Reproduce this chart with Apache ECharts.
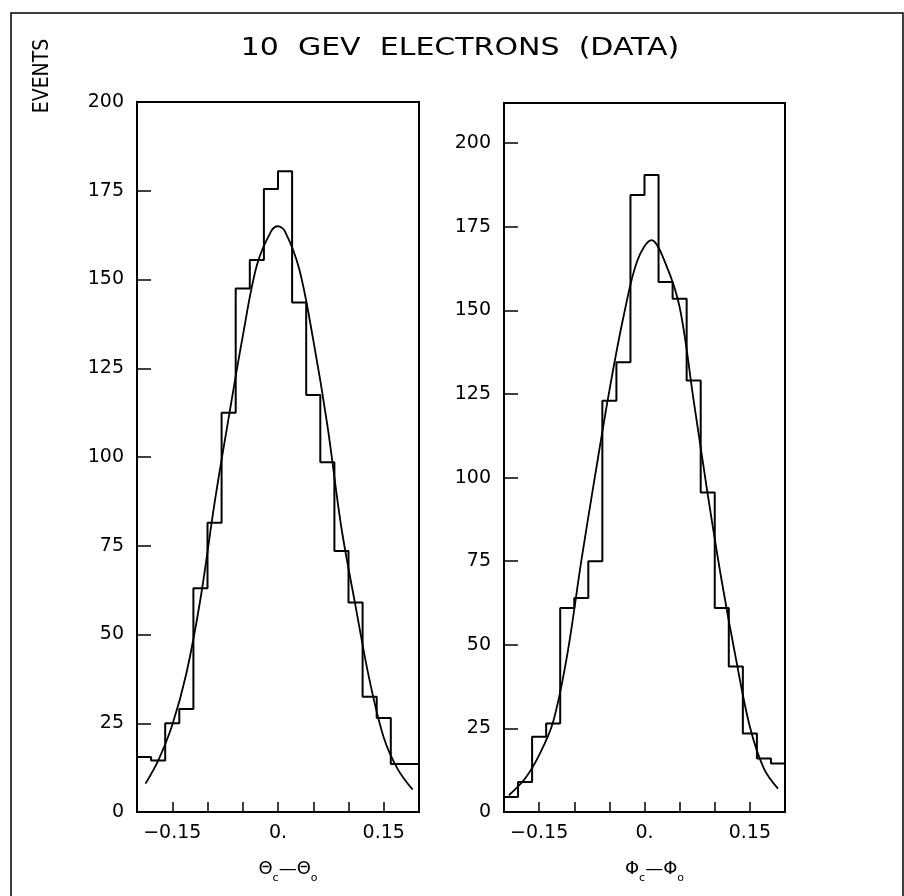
<!DOCTYPE html>
<html>
<head>
<meta charset="utf-8">
<script src="https://cdn.jsdelivr.net/npm/echarts@6/dist/echarts.min.js"></script>
<style>
  html, body { margin: 0; padding: 0; background: #fff; }
  #chart { width: 904px; height: 896px; }
</style>
</head>
<body>
<div id="chart"></div>
<script>
// ---- data ----
const titleText = '10  GEV  ELECTRONS  (DATA)';
const yAxisTitle = 'EVENTS';
const binEdges = [-0.2, -0.18, -0.16, -0.14, -0.12, -0.1, -0.08, -0.06, -0.04, -0.02, 0,
                  0.02, 0.04, 0.06, 0.08, 0.1, 0.12, 0.14, 0.16, 0.18, 0.2];
const thetaCounts = [15.5, 14.5, 25, 29, 63, 81.5, 112.5, 147.5, 155.5, 175.5,
                     180.5, 143.5, 117.5, 98.5, 73.5, 59, 32.5, 26.5, 13.5, 13.5];
const phiCounts = [4.5, 9, 22.5, 26.5, 61, 64, 75, 123, 134.5, 184.5,
                   190.5, 158.5, 153.5, 129, 95.5, 61, 43.5, 23.5, 16, 14.5];
const thetaFitX = [-0.188, -0.17, -0.15, -0.13, -0.11, -0.09, -0.07, -0.05, -0.03, -0.01, 0,
                   0.01, 0.03, 0.05, 0.07, 0.09, 0.11, 0.13, 0.15, 0.17, 0.191];
const thetaFitY = [8, 14.5, 24.5, 39, 60, 87, 111, 134, 154, 163.5, 165,
                   163.5, 153, 133, 109, 80, 58, 37, 21, 12, 6.3];
const phiFitX = [-0.193, -0.17, -0.15, -0.13, -0.11, -0.09, -0.07, -0.05, -0.03, -0.01, 0.01,
                 0.03, 0.05, 0.07, 0.09, 0.11, 0.13, 0.15, 0.17, 0.19];
const phiFitY = [5, 10, 17, 27, 47, 75, 101, 126, 148, 165, 171,
                 164, 151, 123, 95, 69, 46, 25.5, 13, 7];
const xTickLabels = { '-15': '\u22120.15', '0': '0.', '15': '0.15' };
const xRange = [-0.2, 0.2];
const thetaYMax = 200;
const phiYMax = 212;
const yStep = 25;

// ---- build ----
const FONT = "'DejaVu Sans', sans-serif";
function histData(counts) {
  const d = counts.map((c, i) => [binEdges[i], c]);
  d.push([binEdges[binEdges.length - 1], counts[counts.length - 1]]);
  return d;
}
function zip(xs, ys) { return xs.map((x, i) => [x, ys[i]]); }

function xAxis(gi, nameRich) {
  return {
    type: 'value', gridIndex: gi, min: xRange[0], max: xRange[1], interval: 0.05,
    axisLine: { show: true, onZero: false, lineStyle: { color: '#000', width: 2 } },
    axisTick: { show: true, inside: true, length: 10, lineStyle: { color: '#000', width: 1.5 } },
    splitLine: { show: false },
    axisLabel: {
      color: '#000', fontSize: 19, fontFamily: FONT, margin: 12,
      showMinLabel: true, showMaxLabel: true,
      formatter: v => { const k = String(Math.round(v * 100)); return xTickLabels[k] || ''; }
    },
    name: nameRich, nameLocation: 'middle', nameGap: 48,
    nameTextStyle: {
      color: '#000', fontFamily: FONT, padding: [0, 0, 0, 20],
      rich: {
        a: { fontSize: 18, fontFamily: FONT, color: '#000', lineHeight: 24, verticalAlign: 'top' },
        b: { fontSize: 11, fontFamily: FONT, color: '#000', lineHeight: 12, verticalAlign: 'bottom' }
      }
    }
  };
}
function yAxis(gi, max) {
  return {
    type: 'value', gridIndex: gi, min: 0, max: max, interval: yStep,
    axisLine: { show: true, onZero: false, lineStyle: { color: '#000', width: 2 } },
    axisTick: { show: true, inside: true, length: 14, lineStyle: { color: '#000', width: 1.5 } },
    splitLine: { show: false },
    axisLabel: {
      color: '#000', fontSize: 19, fontFamily: FONT, margin: 13,
      formatter: v => (v % yStep === 0 ? String(v) : '')
    }
  };
}

const chart = echarts.init(document.getElementById('chart'), null, { renderer: 'canvas' });
chart.setOption({
  animation: false,
  backgroundColor: '#fff',
  grid: [
    { left: 137, top: 102, width: 282, height: 710, show: true, borderColor: '#000', borderWidth: 2, backgroundColor: 'transparent' },
    { left: 504, top: 103, width: 281, height: 709, show: true, borderColor: '#000', borderWidth: 2, backgroundColor: 'transparent' }
  ],
  xAxis: [
    xAxis(0, '{a|\u0398}{b|c}{a|\u2014\u0398}{b|o}'),
    xAxis(1, '{a|\u03A6}{b|c}{a|\u2014\u03A6}{b|o}')
  ],
  yAxis: [yAxis(0, thetaYMax), yAxis(1, phiYMax)],
  graphic: [
    { type: 'rect', shape: { x: 11, y: 13, width: 892, height: 900 },
      style: { fill: 'none', stroke: '#000', lineWidth: 1.5 }, silent: true },
    { type: 'text', x: 460, y: 48, scaleX: 1.2,
      style: { text: titleText, font: "25px 'DejaVu Sans', sans-serif", fill: '#000',
               textAlign: 'center', textVerticalAlign: 'middle' } },
    { type: 'text', x: 43, y: 76, rotation: Math.PI / 2,
      style: { text: yAxisTitle, font: "21px 'Liberation Sans Narrow', 'DejaVu Sans Condensed', sans-serif",
               fill: '#000', textAlign: 'center', textVerticalAlign: 'middle' } }
  ],
  series: [
    { type: 'line', xAxisIndex: 0, yAxisIndex: 0, step: 'end', data: histData(thetaCounts),
      symbol: 'none', lineStyle: { color: '#000', width: 2 } },
    { type: 'line', xAxisIndex: 0, yAxisIndex: 0, smooth: 0.35, data: zip(thetaFitX, thetaFitY),
      symbol: 'none', lineStyle: { color: '#000', width: 1.8 } },
    { type: 'line', xAxisIndex: 1, yAxisIndex: 1, step: 'end', data: histData(phiCounts),
      symbol: 'none', lineStyle: { color: '#000', width: 2 } },
    { type: 'line', xAxisIndex: 1, yAxisIndex: 1, smooth: 0.35, data: zip(phiFitX, phiFitY),
      symbol: 'none', lineStyle: { color: '#000', width: 1.8 } }
  ]
});
</script>
</body>
</html>
